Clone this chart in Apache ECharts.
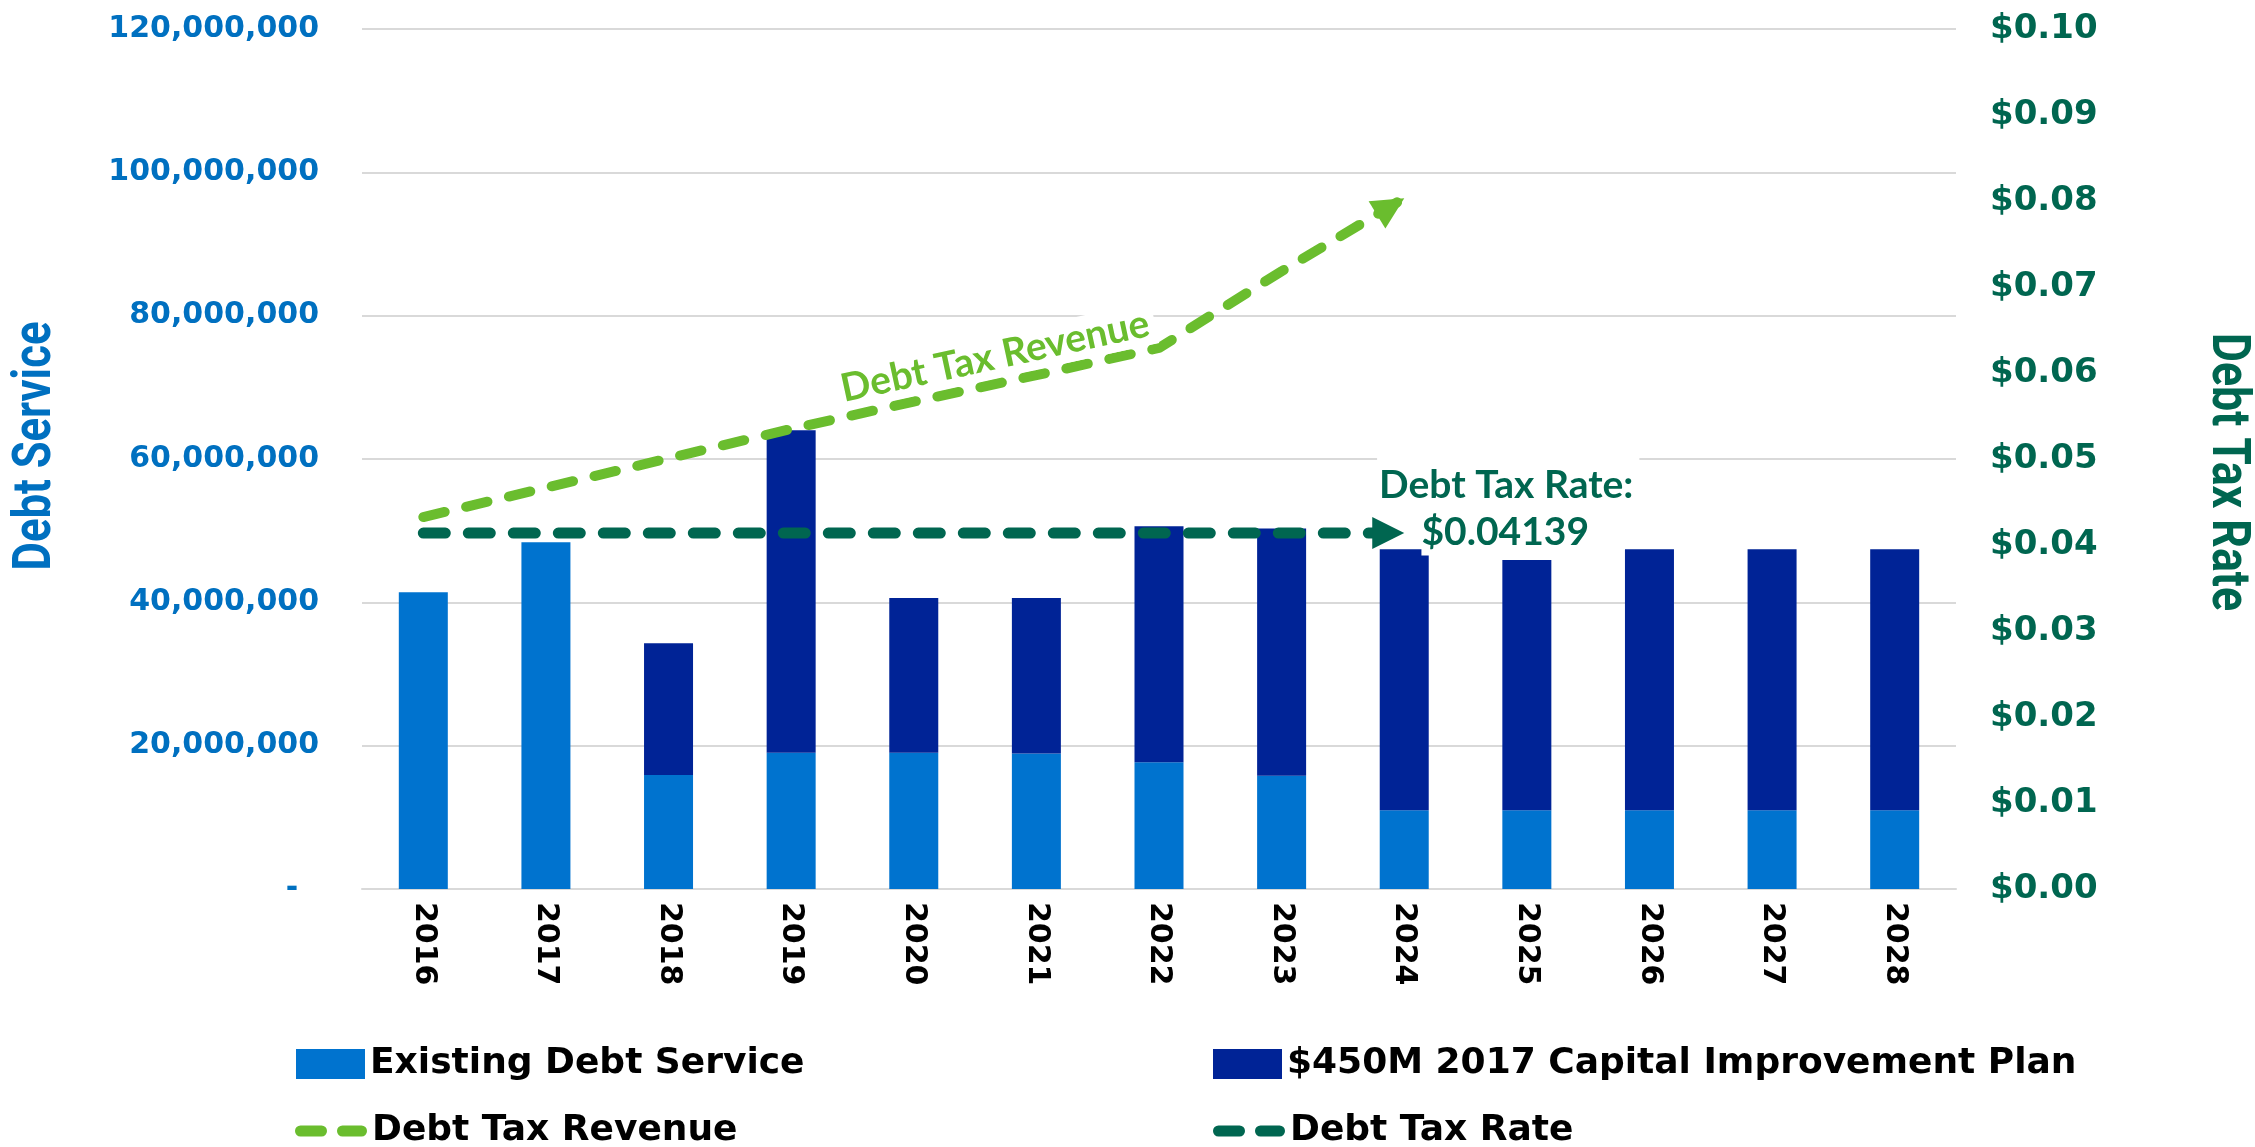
<!DOCTYPE html>
<html>
<head>
<meta charset="utf-8">
<title>Debt Service and Debt Tax Rate</title>
<script src="https://cdn.jsdelivr.net/npm/echarts@6/dist/echarts.min.js"></script>
<style>
  html, body { margin: 0; padding: 0; background: #fff; }
  #main { width: 2255px; height: 1147px; }
</style>
</head>
<body>
<div id="main"></div>
<script>
var years = ['2016', '2017', '2018', '2019', '2020', '2021', '2022', '2023', '2024', '2025', '2026', '2027', '2028'];

// debt service, dollars
var existingDebt = [41400000, 48400000, 15900000, 19000000, 19000000, 18900000, 17700000, 15800000, 11000000, 11000000, 11000000, 11000000, 11000000];
var capitalPlan = [0, 0, 18400000, 45000000, 21600000, 21700000, 32900000, 34500000, 36400000, 34900000, 36400000, 36400000, 36400000];

// trend lines (end at 2024)
var taxRevenue = [51900000, 56000000, 60100000, 64200000, 68000000, 71700000, 75500000, 86200000, 96400000, null, null, null, null];
var taxRate = [0.04139, 0.04139, 0.04139, 0.04139, 0.04139, 0.04139, 0.04139, 0.04139, 0.04139, null, null, null, null];

var leftTicks = [0, 20000000, 40000000, 60000000, 80000000, 100000000, 120000000];
var rightTicks = [0, 0.01, 0.02, 0.03, 0.04, 0.05, 0.06, 0.07, 0.08, 0.09, 0.10];

var blueLight = '#0073cf';
var blueDark = '#002396';
var greenLight = '#6abd2e';
var greenDark = '#006650';
var axisBlue = '#0070c0';
var gridGray = '#d9d9d9';

// two rounded dashes for the line legend keys
var dashIcon = 'path://M5.5,0 L26.5,0 A5.5,5.5 0 0 1 26.5,11 L5.5,11 A5.5,5.5 0 0 1 5.5,0 Z ' +
               'M47.5,0 L66.5,0 A5.5,5.5 0 0 1 66.5,11 L47.5,11 A5.5,5.5 0 0 1 47.5,0 Z';

var myChart = echarts.init(document.getElementById('main'));

// last point of each line carries the arrow head
function withArrow(arr, rotate, offset) {
    return arr.map(function (v, i) {
        if (v !== null && (i === arr.length - 1 || arr[i + 1] === null)) {
            return {
                value: v,
                symbol: 'triangle',
                symbolSize: [32, 32],
                symbolRotate: rotate,
                symbolOffset: offset
            };
        }
        return v;
    });
}

var legendText = { fontFamily: 'DejaVu Sans', fontWeight: 'bold', fontSize: 36, color: '#000' };

var option = {
    animation: false,
    grid: { left: 362, right: 299, top: 29, bottom: 258 },
    legend: [
        { data: ['Existing Debt Service'], left: 296, top: 1046, padding: 0, itemWidth: 69, itemHeight: 30, icon: 'rect', textStyle: legendText },
        { data: ['$450M 2017 Capital Improvement Plan'], left: 1213, top: 1046, padding: 0, itemWidth: 69, itemHeight: 30, icon: 'rect', textStyle: legendText },
        { data: ['Debt Tax Revenue'], left: 295, top: 1113, padding: 0, itemWidth: 72, itemHeight: 11, icon: dashIcon, textStyle: legendText },
        { data: ['Debt Tax Rate'], left: 1213, top: 1113, padding: 0, itemWidth: 72, itemHeight: 11, icon: dashIcon, textStyle: legendText }
    ],
    xAxis: {
        type: 'category',
        data: years,
        axisTick: { show: false },
        axisLine: { lineStyle: { color: gridGray, width: 2 } },
        axisLabel: {
            rotate: -90,
            margin: 13,
            color: '#000',
            fontFamily: 'DejaVu Sans',
            fontWeight: 'bold',
            fontSize: 30
        }
    },
    yAxis: [
        {
            type: 'value',
            min: leftTicks[0],
            max: leftTicks[leftTicks.length - 1],
            interval: leftTicks[1] - leftTicks[0],
            axisLine: { show: false },
            axisTick: { show: false },
            splitLine: { lineStyle: { color: gridGray, width: 2 } },
            axisLabel: {
                margin: 43,
                color: axisBlue,
                fontFamily: 'DejaVu Sans',
                fontWeight: 'bold',
                fontSize: 30,
                formatter: function (v) {
                    return v === 0 ? '-  ' : v.toLocaleString('en-US');
                }
            }
        },
        {
            type: 'value',
            min: rightTicks[0],
            max: rightTicks[rightTicks.length - 1],
            interval: 0.01,
            axisLine: { show: false },
            axisTick: { show: false },
            splitLine: { show: false },
            axisLabel: {
                margin: 34,
                color: greenDark,
                fontFamily: 'DejaVu Sans',
                fontWeight: 'bold',
                fontSize: 34,
                formatter: function (v) {
                    return '$' + v.toFixed(2);
                }
            }
        }
    ],
    series: [
        {
            name: 'Existing Debt Service',
            type: 'bar',
            stack: 'debt',
            barWidth: 49,
            itemStyle: { color: blueLight },
            data: existingDebt
        },
        {
            name: '$450M 2017 Capital Improvement Plan',
            type: 'bar',
            stack: 'debt',
            barWidth: 49,
            itemStyle: { color: blueDark },
            data: capitalPlan
        },
        {
            name: 'Debt Tax Revenue',
            type: 'line',
            yAxisIndex: 0,
            symbol: 'none',
            itemStyle: { color: greenLight },
            lineStyle: { color: greenLight, width: 10, type: [22, 22], cap: 'round' },
            data: withArrow(taxRevenue, -58.5, [-13.6, 8.4]),
            z: 5
        },
        {
            name: 'Debt Tax Rate',
            type: 'line',
            yAxisIndex: 1,
            symbol: 'none',
            itemStyle: { color: greenDark },
            lineStyle: { color: greenDark, width: 11, type: [22, 23], cap: 'round' },
            data: withArrow(taxRate, -90, [-16, 0]),
            z: 5
        }
    ]
};

// condensed-looking axis titles: squeeze a bold face to the reference length
function squeeze(text, font, length) {
    var ctx = document.createElement('canvas').getContext('2d');
    ctx.font = font;
    return length / ctx.measureText(text).width;
}

function placeNotes() {
    var last = 8;
    var tip = myChart.convertToPixel({ xAxisIndex: 0, yAxisIndex: 1 }, [last, taxRate[last]]);
    var a = myChart.convertToPixel({ xAxisIndex: 0, yAxisIndex: 0 }, [4, taxRevenue[4]]);
    var b = myChart.convertToPixel({ xAxisIndex: 0, yAxisIndex: 0 }, [5, taxRevenue[5]]);
    var t = 0.71;
    var ang = Math.atan2(a[1] - b[1], b[0] - a[0]);
    var cx = a[0] + (b[0] - a[0]) * t - 27 * Math.sin(ang);
    var cy = a[1] + (b[1] - a[1]) * t - 27 * Math.cos(ang);

    var nameFont = 'bold 54px Roboto';

    myChart.setOption({
        graphic: [
            {
                type: 'text', x: 36, y: 446, rotation: Math.PI / 2, z: 100,
                scaleX: squeeze('Debt Service', nameFont, 249),
                style: {
                    text: 'Debt Service', fill: axisBlue, font: nameFont,
                    align: 'center', verticalAlign: 'middle'
                }
            },
            {
                type: 'text', x: 2226, y: 472, rotation: -Math.PI / 2, z: 100,
                scaleX: squeeze('Debt Tax Rate', nameFont, 278),
                style: {
                    text: 'Debt Tax Rate', fill: greenDark, font: nameFont,
                    align: 'center', verticalAlign: 'middle'
                }
            },
            {
                type: 'text', x: cx, y: cy, rotation: ang, z: 100,
                style: {
                    text: 'Debt Tax Revenue', fill: greenLight,
                    font: 'bold 39px Lato', align: 'center', verticalAlign: 'middle',
                    backgroundColor: '#fff', padding: [2, 6]
                }
            },
            {
                type: 'text', x: tip[0] + 104, y: tip[1] - 48, z: 100,
                style: {
                    text: 'Debt Tax Rate:', fill: greenDark,
                    font: 'bold 39px Lato', align: 'center', verticalAlign: 'middle',
                    backgroundColor: '#fff', padding: [14, 6, 2, 2]
                }
            },
            {
                type: 'text', x: tip[0] + 103, y: tip[1] - 1, z: 100,
                style: {
                    text: '$0.04139', fill: greenDark,
                    font: 'bold 39px Lato', align: 'center', verticalAlign: 'middle',
                    backgroundColor: '#fff', padding: [0, 4, 8, 0]
                }
            }
        ]
    });
}

myChart.setOption(option);
placeNotes();

window.onresize = function () {
    myChart.resize();
    placeNotes();
};
</script>
</body>
</html>
